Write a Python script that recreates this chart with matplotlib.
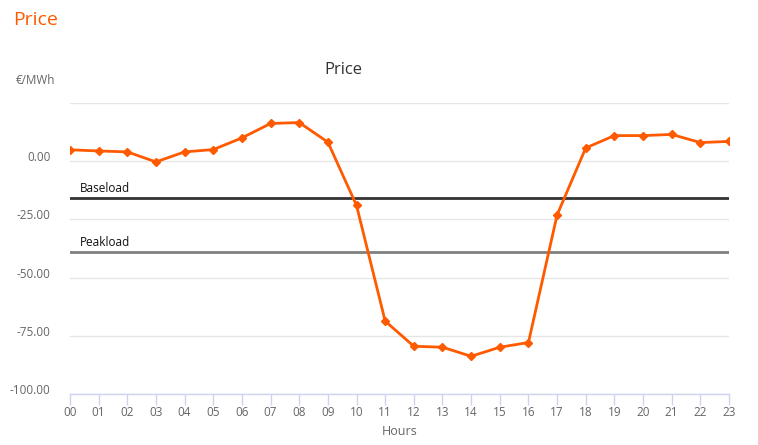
import matplotlib.pyplot as plt
from matplotlib.ticker import FuncFormatter

# Data
hours = ["00", "01", "02", "03", "04", "05", "06", "07", "08", "09", "10", "11",
         "12", "13", "14", "15", "16", "17", "18", "19", "20", "21", "22", "23"]
price = [4.9, 4.4, 4.0, -0.3, 4.0, 5.0, 10.0, 16.2, 16.6, 8.2, -19.0, -68.7,
         -79.5, -79.9, -83.8, -79.9, -77.9, -23.1, 5.7, 11.0, 11.0, 11.5, 8.0, 8.5]
baseload = -15.8
peakload = -39.1
y_ticks = [-100, -75, -50, -25, 0, 25]

orange = "#ff5a00"
grey_text = "#666666"

plt.rcParams["font.family"] = ["Open Sans", "DejaVu Sans"]

fig = plt.figure(figsize=(7.58, 4.45), dpi=100)
ax = fig.add_axes([70 / 758, 51 / 445, 659 / 758, 291 / 445])

x = list(range(len(hours)))
ax.plot(x, price, color=orange, lw=2, marker="D", markersize=4.2, zorder=3)

# Baseload / Peakload reference lines
ax.axhline(baseload, color="#333333", lw=2, zorder=2)
ax.axhline(peakload, color="#808080", lw=2, zorder=2)
ax.text(0.35, baseload + 1.2, "Baseload", fontsize=8.5, color="#111111", va="bottom")
ax.text(0.35, peakload + 1.2, "Peakload", fontsize=8.5, color="#111111", va="bottom")

ax.set_xlim(0, len(hours) - 1)
ax.set_ylim(-100, 25)
ax.set_xticks(x)
ax.set_xticklabels(hours)
ax.set_yticks(y_ticks)
ax.yaxis.set_major_formatter(FuncFormatter(lambda v, p: "" if v == 25 else "%.2f" % v))

ax.grid(axis="y", color="#e6e6e6", lw=1)
ax.set_axisbelow(True)
for s in ["top", "right", "left"]:
    ax.spines[s].set_visible(False)
ax.spines["bottom"].set_color("#ccd6eb")
ax.spines["bottom"].set_linewidth(1)

ax.tick_params(axis="x", colors="#ccd6eb", length=8, width=1, labelcolor=grey_text,
               labelsize=8.5, pad=1)
ax.tick_params(axis="y", length=0, labelcolor=grey_text, labelsize=8.5, pad=14)
for lbl in ax.get_yticklabels():
    lbl.set_verticalalignment("baseline")

ax.set_xlabel("Hours", fontsize=9, color=grey_text, labelpad=4)

# Titles
fig.text(13 / 758, 1 - 20 / 445, "Price", fontsize=14, color=orange, va="center", ha="left")
fig.text(343 / 758, 1 - 70 / 445, "Price", fontsize=12, color="#333333", va="center", ha="center")
fig.text(16 / 758, 1 - 80 / 445, "€/MWh", fontsize=8.5, color=grey_text, va="center", ha="left")

fig.savefig("out.png", dpi=100)
